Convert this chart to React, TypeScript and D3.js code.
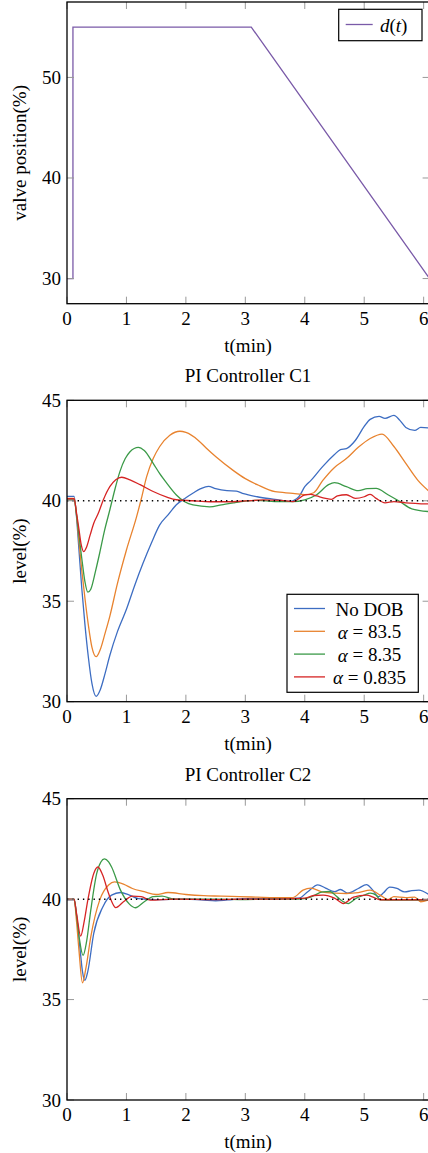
import React from 'react';
import * as d3 from 'd3';

// tick values
const timeTicks = [0, 1, 2, 3, 4, 5, 6];
const valveTicks = [30, 40, 50];
const levelTicks = [30, 35, 40, 45];

// disturbance d(t)
const valveT = [0, 0.1, 0.1, 3.1, 6.1];
const valveV = [30, 30, 55, 55, 30];

// PI Controller C1
const c1NoDob = [[0,40.22],[0.12,40.22],[0.16,39.2],[0.2,37.6],[0.25,35.6],[0.3,33.9],[0.36,32.2],[0.42,30.9],[0.49,30.27],[0.56,30.6],[0.64,31.4],[0.72,32.3],[0.85,33.5],[1.0,34.6],[1.14,35.8],[1.28,36.9],[1.42,37.9],[1.56,38.8],[1.7,39.3],[1.84,39.8],[2.0,40.15],[2.13,40.4],[2.25,40.6],[2.38,40.72],[2.5,40.6],[2.69,40.5],[2.85,40.48],[2.97,40.35],[3.2,40.2],[3.5,40.07],[3.75,39.97],[3.9,40.2],[4.0,40.7],[4.1,41.0],[4.3,41.7],[4.5,42.3],[4.6,42.55],[4.7,42.6],[4.85,43.0],[5.0,43.7],[5.1,44.05],[5.25,44.2],[5.35,44.1],[5.5,44.25],[5.6,44.0],[5.7,43.65],[5.85,43.5],[5.95,43.65],[6.1,43.62]];
const c1Alpha835 = [[0,40.12],[0.12,40.12],[0.16,39.3],[0.2,38.0],[0.25,36.5],[0.3,35.2],[0.36,33.8],[0.42,32.7],[0.49,32.24],[0.56,32.6],[0.64,33.4],[0.72,34.25],[0.85,35.9],[1.0,37.55],[1.17,39.2],[1.25,40.1],[1.34,41.2],[1.45,42.1],[1.56,42.7],[1.73,43.26],[1.9,43.46],[2.0,43.4],[2.2,43.03],[2.35,42.6],[2.5,42.2],[2.8,41.5],[3.0,41.1],[3.2,40.8],[3.5,40.45],[3.8,40.37],[4.0,40.3],[4.15,40.4],[4.3,41.0],[4.5,41.66],[4.7,42.1],[4.9,42.66],[5.1,43.1],[5.3,43.32],[5.5,42.7],[5.7,41.86],[5.9,41.03],[6.1,40.45]];
const c1Alpha8 = [[0,40.04],[0.12,40.04],[0.16,39.3],[0.2,38.3],[0.25,37.1],[0.3,36.0],[0.35,35.45],[0.4,35.6],[0.48,36.5],[0.55,37.4],[0.63,38.5],[0.72,39.54],[0.8,40.5],[0.89,41.45],[0.98,42.1],[1.06,42.44],[1.2,42.66],[1.3,42.5],[1.45,41.86],[1.56,41.35],[1.68,40.87],[1.84,40.29],[1.98,39.95],[2.12,39.79],[2.4,39.7],[2.6,39.8],[2.8,39.9],[3.2,40.02],[3.5,39.96],[3.8,39.96],[4.0,40.05],[4.2,40.3],[4.4,40.8],[4.5,40.9],[4.7,40.7],[4.9,40.5],[5.05,40.6],[5.2,40.62],[5.4,40.3],[5.6,39.96],[5.8,39.6],[6.1,39.46]];
const c1Alpha08 = [[0,40.1],[0.12,40.1],[0.16,39.4],[0.2,38.6],[0.24,37.8],[0.28,37.47],[0.33,37.7],[0.39,38.3],[0.45,38.88],[0.53,39.4],[0.61,40.04],[0.72,40.7],[0.82,41.05],[0.92,41.17],[1.06,41.04],[1.23,40.8],[1.45,40.46],[1.68,40.18],[1.84,40.05],[2.12,40.0],[2.4,39.95],[2.7,39.95],[3.0,39.99],[3.3,40.04],[3.6,40.02],[3.8,39.96],[4.0,40.29],[4.1,40.32],[4.2,40.24],[4.35,40.12],[4.45,40.07],[4.55,40.24],[4.7,40.3],[4.85,40.12],[5.0,40.2],[5.1,40.32],[5.2,40.12],[5.35,39.9],[5.5,39.96],[5.7,39.9],[6.1,39.84]];

// PI Controller C2
const c2NoDob = [[0,39.97],[0.12,39.97],[0.16,39.2],[0.22,37.5],[0.26,36.4],[0.3,35.96],[0.35,36.4],[0.45,38.3],[0.6,39.6],[0.75,40.2],[0.9,40.33],[1.05,40.2],[1.2,40.03],[1.5,39.98],[2.0,40.0],[2.3,39.95],[2.5,39.92],[2.7,39.96],[3.0,40.03],[3.5,40.03],[3.9,40.05],[4.05,40.37],[4.22,40.71],[4.35,40.55],[4.5,40.37],[4.6,40.48],[4.72,40.3],[4.9,40.53],[5.04,40.72],[5.13,40.5],[5.24,40.12],[5.32,40.3],[5.43,40.6],[5.55,40.53],[5.68,40.36],[5.8,40.42],[5.92,40.45],[6.1,40.2]];
const c2Alpha835 = [[0,39.98],[0.12,39.98],[0.16,38.9],[0.2,37.5],[0.26,35.83],[0.32,36.6],[0.4,38.12],[0.55,39.95],[0.7,40.7],[0.8,40.86],[0.95,40.75],[1.1,40.53],[1.3,40.37],[1.5,40.23],[1.7,40.33],[2.0,40.23],[2.3,40.17],[2.6,40.15],[2.9,40.12],[3.2,40.1],[3.5,40.08],[3.8,40.08],[3.97,40.45],[4.1,40.55],[4.3,40.35],[4.5,40.3],[4.7,40.28],[4.9,40.32],[5.1,40.45],[5.27,40.2],[5.4,39.98],[5.5,40.12],[5.7,40.08],[5.85,40.1],[5.95,39.87],[6.1,39.98]];
const c2Alpha8 = [[0,40.0],[0.12,40.0],[0.16,39.2],[0.21,38.0],[0.27,37.2],[0.33,37.9],[0.4,39.45],[0.5,41.28],[0.57,41.85],[0.63,42.0],[0.7,41.85],[0.75,41.6],[0.9,40.45],[1.05,39.75],[1.15,39.57],[1.3,39.87],[1.45,40.12],[1.6,40.15],[1.8,40.0],[2.5,40.0],[3.0,39.98],[3.5,40.0],[3.9,40.0],[4.1,40.1],[4.3,40.36],[4.42,40.38],[4.55,40.1],[4.65,39.87],[4.73,39.78],[4.87,40.05],[5.0,40.2],[5.1,40.3],[5.2,40.2],[5.27,39.97],[5.5,39.95],[6.1,39.95]];
const c2Alpha08 = [[0,40.0],[0.12,40.0],[0.16,39.3],[0.23,38.16],[0.29,38.9],[0.35,39.95],[0.45,41.28],[0.52,41.6],[0.6,41.2],[0.7,40.28],[0.82,39.58],[0.95,39.87],[1.1,40.15],[1.25,40.12],[1.4,39.95],[1.8,40.0],[2.5,39.98],[3.0,40.0],[3.5,40.0],[4.0,40.05],[4.15,40.18],[4.31,40.2],[4.5,40.05],[4.65,39.78],[4.82,40.1],[5.04,40.2],[5.15,40.1],[5.27,39.97],[5.6,39.97],[6.1,39.97]];

const seriesColors = ['#3d6dc2', '#e8832f', '#3b9a48', '#d62424'];
const legendLabels = ['No DOB', '= 83.5', '= 8.35', '= 0.835'];
const setpoint = 40;

const FONT = '"Liberation Serif", "DejaVu Serif", serif';
const FS = 19;
const LEFT = 67;
const RIGHT = 429.6;
const XMAX = 6.1;

type Pt = number[];

function Frame({ top, bottom, yDomain, yTicks, ylabel, title, id, children }: any) {
  const x = d3.scaleLinear().domain([0, XMAX]).range([LEFT, RIGHT]);
  const y = d3.scaleLinear().domain(yDomain).range([bottom, top]);
  const tl = 7;
  return (
    <g>
      <defs>
        <clipPath id={id}>
          <rect x={LEFT} y={top} width={RIGHT - LEFT} height={bottom - top} />
        </clipPath>
      </defs>
      {title && (
        <text x={248} y={top - 24.5} textAnchor="middle" dominantBaseline="central" fontSize={FS}>{title}</text>
      )}
      <g clipPath={`url(#${id})`}>{children(x, y)}</g>
      {timeTicks.map(t => (
        <g key={'x' + t} stroke="#999" strokeWidth={1}>
          <line x1={x(t)} x2={x(t)} y1={bottom} y2={bottom - tl} />
          <line x1={x(t)} x2={x(t)} y1={top} y2={top + tl} />
        </g>
      ))}
      {yTicks.map((v: number) => (
        <g key={'y' + v} stroke="#999" strokeWidth={1}>
          <line x1={LEFT} x2={LEFT + tl} y1={y(v)} y2={y(v)} />
          <line x1={RIGHT} x2={RIGHT - tl} y1={y(v)} y2={y(v)} />
        </g>
      ))}
      <rect x={LEFT} y={top} width={RIGHT - LEFT} height={bottom - top} fill="none" stroke="#000" strokeWidth={1.3} />
      {timeTicks.map(t => (
        <text key={'xl' + t} x={x(t)} y={bottom + 14.5} textAnchor="middle" dominantBaseline="central" fontSize={FS}>{t}</text>
      ))}
      {yTicks.map((v: number) => (
        <text key={'yl' + v} x={LEFT - 6} y={y(v)} textAnchor="end" dominantBaseline="central" fontSize={FS}>{v}</text>
      ))}
      <text x={248} y={bottom + 41.5} textAnchor="middle" dominantBaseline="central" fontSize={FS}>t(min)</text>
      <text transform={`translate(19.5,${(top + bottom) / 2}) rotate(-90)`} textAnchor="middle" dominantBaseline="central" fontSize={FS}>{ylabel}</text>
    </g>
  );
}

function levelPanel(data: Pt[][]) {
  return (x: any, y: any) => {
    const line = d3.line<Pt>().x(d => x(d[0])).y(d => y(d[1])).curve(d3.curveMonotoneX);
    return (
      <g>
        {data.map((s, i) => (
          <path key={i} d={line(s) || ''} fill="none" stroke={seriesColors[i]} strokeWidth={1.3} />
        ))}
        <line x1={x(0)} x2={x(XMAX)} y1={y(setpoint)} y2={y(setpoint)} stroke="#000" strokeWidth={1.5} strokeDasharray="1.4 3.9" />
      </g>
    );
  };
}

export default function App() {
  return (
    <svg width={428} height={1153} style={{ position: 'absolute', left: 0, top: 0 }} fontFamily={FONT}>
      <rect width={428} height={1153} fill="#fff" />
      {/* valve position */}
      <Frame id="c0" top={2} bottom={303.7} yDomain={[27.5, 57.5]} yTicks={valveTicks} ylabel="valve position(%)">
        {(x: any, y: any) => {
          const line = d3.line<number>().x(d => x(valveT[d])).y(d => y(valveV[d]));
          return <path d={line(d3.range(valveT.length)) || ''} fill="none" stroke="#7a5aa8" strokeWidth={1.3} />;
        }}
      </Frame>
      <g>
        <rect x={338.7} y={9.3} width={83.3} height={31.4} fill="#fff" stroke="#000" strokeWidth={1.2} />
        <line x1={345.7} x2={372.7} y1={24.5} y2={24.5} stroke="#7a5aa8" strokeWidth={1.3} />
        <text x={380} y={25} dominantBaseline="central" fontSize={FS}>
          <tspan fontStyle="italic">d</tspan>(<tspan fontStyle="italic">t</tspan>)
        </text>
      </g>

      {/* C1 */}
      <Frame id="c1" top={400.3} bottom={701.7} yDomain={[30, 45]} yTicks={levelTicks} ylabel="level(%)" title="PI Controller C1">
        {levelPanel([c1NoDob, c1Alpha835, c1Alpha8, c1Alpha08])}
      </Frame>
      <g>
        <rect x={287} y={594.3} width={131.3} height={98} fill="#fff" stroke="#000" strokeWidth={1.2} />
        {legendLabels.map((lab, i) => (
          <g key={lab}>
            <line x1={294} x2={325} y1={608.5 + i * 22.8} y2={608.5 + i * 22.8} stroke={seriesColors[i]} strokeWidth={1.3} />
            <text x={369.5} y={609 + i * 22.8} textAnchor="middle" dominantBaseline="central" fontSize={FS}>
              {i === 0 ? lab : (<><tspan fontStyle="italic">α</tspan> {lab}</>)}
            </text>
          </g>
        ))}
      </g>

      {/* C2 */}
      <Frame id="c2" top={798.7} bottom={1100} yDomain={[30, 45]} yTicks={levelTicks} ylabel="level(%)" title="PI Controller C2">
        {levelPanel([c2NoDob, c2Alpha835, c2Alpha8, c2Alpha08])}
      </Frame>
    </svg>
  );
}
